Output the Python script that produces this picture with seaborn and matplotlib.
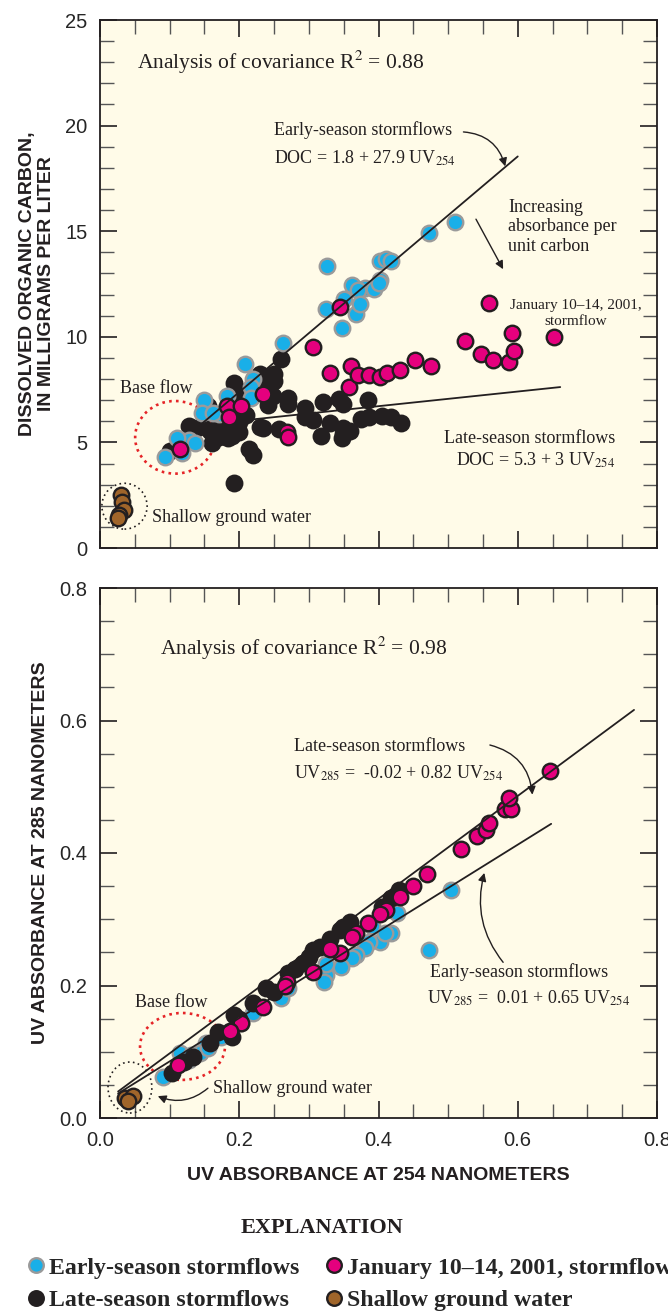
import numpy as np
import pandas as pd
import matplotlib
matplotlib.use("Agg")
import matplotlib.pyplot as plt
from matplotlib.lines import Line2D
from matplotlib.patches import Ellipse
from matplotlib.ticker import MultipleLocator
import seaborn as sns

# ---------------- DATA ----------------
# Top panel: UV254 vs DOC (mg/L)
early_doc_x = [0.51, 0.473, 0.402, 0.411, 0.418, 0.326, 0.402, 0.362, 0.38, 0.394, 0.37, 0.35,
               0.325, 0.348, 0.367, 0.373, 0.263, 0.208, 0.22, 0.217, 0.217, 0.183, 0.149, 0.146,
               0.171, 0.162, 0.115, 0.128, 0.137, 0.094, 0.118, 0.11, 0.40]
early_doc_y = [15.45, 14.9, 13.6, 13.7, 13.6, 13.35, 12.7, 12.45, 12.3, 12.25, 12.2, 11.8,
               11.3, 10.4, 11.1, 11.55, 9.7, 8.7, 8.0, 7.6, 7.1, 7.2, 7.0, 6.4,
               6.35, 6.4, 5.1, 5.1, 4.95, 4.3, 4.5, 5.2, 12.55]

late_doc_x = [0.26, 0.25, 0.23, 0.238, 0.25, 0.193, 0.199, 0.242, 0.248, 0.242, 0.27, 0.27,
              0.294, 0.32, 0.343, 0.349, 0.385, 0.294, 0.306, 0.33, 0.349, 0.375, 0.386, 0.405,
              0.418, 0.432, 0.234, 0.257, 0.318, 0.349, 0.359, 0.348, 0.214, 0.22, 0.193, 0.128,
              0.146, 0.158, 0.161, 0.183, 0.199, 0.19, 0.171, 0.10, 0.23, 0.184, 0.168, 0.139,
              0.20, 0.21, 0.19, 0.18, 0.155, 0.19, 0.20]
late_doc_y = [8.95, 8.25, 8.25, 7.9, 7.9, 7.8, 7.45, 7.6, 7.2, 6.75, 7.1, 6.8,
              6.65, 6.9, 7.05, 6.8, 7.0, 6.2, 6.05, 5.9, 5.7, 6.1, 6.2, 6.27,
              6.2, 5.9, 5.7, 5.65, 5.3, 5.4, 5.55, 5.2, 4.7, 4.4, 3.1, 5.8,
              5.8, 5.55, 4.95, 5.25, 5.95, 5.65, 5.25, 4.6, 5.75, 5.2, 5.7, 5.7,
              6.1, 6.3, 6.9, 6.4, 6.7, 5.3, 5.5]

jan_doc_x = [0.115, 0.183, 0.185, 0.203, 0.234, 0.268, 0.27, 0.306, 0.345, 0.331, 0.357, 0.361,
             0.371, 0.387, 0.402, 0.412, 0.431, 0.453, 0.475, 0.559, 0.524, 0.547, 0.564, 0.587,
             0.592, 0.594, 0.652]
jan_doc_y = [4.7, 6.7, 6.2, 6.7, 7.3, 5.5, 5.25, 9.5, 11.4, 8.3, 7.6, 8.6,
             8.2, 8.2, 8.1, 8.3, 8.45, 8.9, 8.6, 11.6, 9.8, 9.2, 8.9, 8.8,
             10.2, 9.35, 10.0]

gw_doc_x = [0.030, 0.032, 0.034, 0.028, 0.026]
gw_doc_y = [2.5, 2.2, 1.8, 1.55, 1.4]

# Bottom panel: UV254 vs UV285
early_uv_x = [0.504, 0.473, 0.427, 0.418, 0.402, 0.387, 0.381, 0.368, 0.362, 0.346, 0.325, 0.322,
              0.325, 0.26, 0.27, 0.22, 0.202, 0.174, 0.152, 0.143, 0.128, 0.115, 0.09, 0.13,
              0.155, 0.41, 0.39]
early_uv_y = [0.344, 0.254, 0.309, 0.279, 0.266, 0.266, 0.256, 0.246, 0.241, 0.228, 0.216, 0.205,
              0.233, 0.181, 0.196, 0.158, 0.143, 0.123, 0.113, 0.098, 0.088, 0.098, 0.062, 0.095,
              0.105, 0.28, 0.29]

late_uv_x = [0.43, 0.418, 0.405, 0.359, 0.349, 0.344, 0.316, 0.300, 0.291, 0.306, 0.27, 0.239,
             0.22, 0.192, 0.19, 0.158, 0.134, 0.103, 0.33, 0.28, 0.25, 0.20, 0.17, 0.12]
late_uv_y = [0.344, 0.332, 0.319, 0.296, 0.289, 0.284, 0.258, 0.243, 0.234, 0.254, 0.219, 0.196,
             0.174, 0.156, 0.122, 0.113, 0.092, 0.068, 0.27, 0.225, 0.19, 0.15, 0.13, 0.085]

jan_uv_x = [0.47, 0.45, 0.431, 0.411, 0.402, 0.385, 0.368, 0.362, 0.345, 0.331, 0.306, 0.268,
            0.266, 0.234, 0.202, 0.186, 0.112, 0.519, 0.542, 0.555, 0.558, 0.582, 0.59, 0.588,
            0.647]
jan_uv_y = [0.368, 0.35, 0.334, 0.314, 0.308, 0.294, 0.279, 0.273, 0.249, 0.255, 0.221, 0.205,
            0.2, 0.168, 0.143, 0.132, 0.08, 0.406, 0.426, 0.435, 0.445, 0.466, 0.466, 0.483,
            0.524]

gw_uv_x = [0.036, 0.047, 0.040]
gw_uv_y = [0.030, 0.033, 0.025]

# Regression lines (end points)
early_doc_line_x = [0.145, 0.60]
early_doc_line_y = [5.85, 18.54]
late_doc_line_x = [0.208, 0.661]
late_doc_line_y = [6.05, 7.62]
late_uv_line_x = [0.026, 0.767]
late_uv_line_y = [0.040, 0.616]
early_uv_line_x = [0.026, 0.648]
early_uv_line_y = [0.037, 0.444]

groups = ["Early-season stormflows", "Late-season stormflows",
          "January 10\u201314, 2001, stormflow", "Shallow ground water"]

def frame(x, y, g):
    return pd.DataFrame({"uv254": x, "val": y, "group": g})

top_df = pd.concat([frame(late_doc_x, late_doc_y, groups[1]),
                    frame(early_doc_x, early_doc_y, groups[0]),
                    frame(jan_doc_x, jan_doc_y, groups[2]),
                    frame(gw_doc_x, gw_doc_y, groups[3])], ignore_index=True)
bot_df = pd.concat([frame(early_uv_x, early_uv_y, groups[0]),
                    frame(late_uv_x, late_uv_y, groups[1]),
                    frame(jan_uv_x, jan_uv_y, groups[2]),
                    frame(gw_uv_x, gw_uv_y, groups[3])], ignore_index=True)

# ---------------- STYLE ----------------
sns.set_style("ticks")
SANS = ["Liberation Sans", "DejaVu Sans"]
SERIF = ["Liberation Serif", "DejaVu Serif"]
plt.rcParams["font.family"] = SANS
plt.rcParams["mathtext.fontset"] = "stix"

face = {groups[0]: "#19AFE8", groups[1]: "#231F20", groups[2]: "#E5007E", groups[3]: "#A0652A"}
edge = {groups[0]: "#9A9A9A", groups[1]: "#231F20", groups[2]: "#231F20", groups[3]: "#231F20"}
BG = "#FFFBE8"
INK = "#231F20"

W, H = 668, 1314
fig = plt.figure(figsize=(W / 100, H / 100), dpi=100)
ax1 = fig.add_axes([100 / W, 1 - 548 / H, 557 / W, 528 / H])
ax2 = fig.add_axes([100 / W, 1 - 1118 / H, 557 / W, 530 / H])

def draw(ax, df, order):
    for g in order:
        sub = df[df.group == g]
        sns.scatterplot(data=sub, x="uv254", y="val", ax=ax, color=face[g],
                        edgecolor=edge[g], linewidth=1.7, s=125, zorder=3, legend=False)

draw(ax1, top_df, [groups[1], groups[0], groups[2], groups[3]])
draw(ax2, bot_df, [groups[0], groups[1], groups[2], groups[3]])

ax1.plot(early_doc_line_x, early_doc_line_y, color=INK, lw=1.3, zorder=4)
ax1.plot(late_doc_line_x, late_doc_line_y, color=INK, lw=1.3, zorder=4)
ax2.plot(late_uv_line_x, late_uv_line_y, color=INK, lw=1.3, zorder=4)
ax2.plot(early_uv_line_x, early_uv_line_y, color=INK, lw=1.3, zorder=4)

for ax, ymax, ymaj, ymin in [(ax1, 25, 5, 1), (ax2, 0.8, 0.2, 0.05)]:
    ax.set_facecolor(BG)
    ax.set_xlim(0, 0.8)
    ax.set_ylim(0, ymax)
    ax.xaxis.set_major_locator(MultipleLocator(0.2))
    ax.xaxis.set_minor_locator(MultipleLocator(0.05))
    ax.yaxis.set_major_locator(MultipleLocator(ymaj))
    ax.yaxis.set_minor_locator(MultipleLocator(ymin))
    ax.tick_params(which="both", direction="in", top=True, right=True, color=INK)
    ax.tick_params(which="major", length=12, width=1.2, labelsize=14.5, pad=9)
    ax.tick_params(which="minor", length=10, width=1.0, color="#555555")
    for sp in ax.spines.values():
        sp.set_linewidth(1.3)
        sp.set_color(INK)
    ax.set_xlabel("")
    ax.set_ylabel("")

ax1.set_yticks([0, 5, 10, 15, 20, 25])
ax1.set_yticklabels(["0", "5", "10", "15", "20", "25"])
ax1.tick_params(axis="x", labelbottom=False)
ax2.set_yticks([0, 0.2, 0.4, 0.6, 0.8])
ax2.set_yticklabels(["0.0", "0.2", "0.4", "0.6", "0.8"])
ax2.set_xticks([0, 0.2, 0.4, 0.6, 0.8])
ax2.set_xticklabels(["0.0", "0.2", "0.4", "0.6", "0.8"])

lab = dict(fontsize=14, fontweight="bold", family=SANS, color=INK)
ax2.set_xlabel("UV ABSORBANCE AT 254 NANOMETERS", **lab)
ax2.xaxis.set_label_coords(0.499, -0.092)
ax2.set_ylabel("UV ABSORBANCE AT 285 NANOMETERS", **lab)
ax2.yaxis.set_label_coords(-0.092, 0.5)
ax1.set_ylabel("DISSOLVED ORGANIC CARBON,\nIN MILLIGRAMS PER LITER", linespacing=1.15, **lab)
ax1.yaxis.set_label_coords(-0.08, 0.5)

# ellipses
ax1.add_patch(Ellipse((0.108, 5.24), 0.115, 3.44, fill=False, ec="#E52427", ls=(0, (1, 1.6)), lw=1.9, zorder=2))
ax1.add_patch(Ellipse((0.0352, 1.98), 0.065, 2.17, fill=False, ec=INK, ls=(0, (1, 2)), lw=1.2, zorder=2))
ax2.add_patch(Ellipse((0.1185, 0.108), 0.122, 0.101, fill=False, ec="#E52427", ls=(0, (1, 1.6)), lw=1.9, zorder=2))
ax2.add_patch(Ellipse((0.043, 0.046), 0.063, 0.077, fill=False, ec=INK, ls=(0, (1, 2)), lw=1.2, zorder=2))

fs = 13
def t(ax, x, y, s, size=fs, **kw):
    ax.text(x, y, s, fontsize=size, family=SERIF, color=INK, va="center", **kw)

# top annotations
t(ax1, 0.053, 23.0, "Analysis of covariance R$^2$ = 0.88", size=15.5)
t(ax1, 0.25, 19.8, "Early-season stormflows")
t(ax1, 0.25, 18.45, "DOC = 1.8 + 27.9 UV$_{254}$")
t(ax1, 0.586, 15.2, "Increasing\nabsorbance per\nunit carbon", linespacing=1.22)
t(ax1, 0.683, 11.1, "January 10\u201314, 2001,\nstormflow", size=11, ha="center", linespacing=1.35)
t(ax1, 0.029, 7.55, "Base flow")
t(ax1, 0.74, 5.2, "Late-season stormflows", ha="right")
t(ax1, 0.74, 4.15, "DOC = 5.3 + 3 UV$_{254}$", ha="right")
t(ax1, 0.075, 1.46, "Shallow ground water")

arrow = dict(arrowstyle="-|>", color=INK, lw=1.0, mutation_scale=12, shrinkA=0, shrinkB=0)
ax1.annotate("", xy=(0.582, 18.07), xytext=(0.522, 19.7),
             arrowprops=dict(arrow, connectionstyle="arc3,rad=-0.35"))
ax1.annotate("", xy=(0.579, 13.2), xytext=(0.54, 15.57), arrowprops=arrow)

# bottom annotations
t(ax2, 0.086, 0.709, "Analysis of covariance R$^2$ = 0.98", size=15.5)
t(ax2, 0.279, 0.561, "Late-season stormflows")
t(ax2, 0.279, 0.521, "UV$_{285}$ =  -0.02 + 0.82 UV$_{254}$")
t(ax2, 0.474, 0.220, "Early-season stormflows")
t(ax2, 0.470, 0.181, "UV$_{285}$ =  0.01 + 0.65 UV$_{254}$")
t(ax2, 0.05, 0.175, "Base flow")
t(ax2, 0.162, 0.045, "Shallow ground water")

ax2.annotate("", xy=(0.621, 0.488), xytext=(0.56, 0.563),
             arrowprops=dict(arrow, connectionstyle="arc3,rad=-0.35"))
ax2.annotate("", xy=(0.552, 0.37), xytext=(0.579, 0.235),
             arrowprops=dict(arrow, connectionstyle="arc3,rad=-0.25"))
ax2.annotate("", xy=(0.083, 0.033), xytext=(0.155, 0.045),
             arrowprops=dict(arrow, connectionstyle="arc3,rad=-0.3"))

# legend
fig.text(322 / W, 1 - 1228 / H, "EXPLANATION", fontsize=16, fontweight="bold",
         family=SERIF, ha="center", va="center", color=INK)
handles = [Line2D([], [], ls="", marker="o", markersize=10.5, markerfacecolor=face[g],
                  markeredgecolor=edge[g], markeredgewidth=1.7) for g in
           [groups[0], groups[1], groups[2], groups[3]]]
fig.legend(handles, [groups[0], groups[1], groups[2], groups[3]], ncol=2,
           loc="upper left", bbox_to_anchor=(29 / W, 1 - 1257 / H), frameon=False,
           prop=dict(family=SERIF, weight="bold", size=17.2), handlelength=0.55,
           handletextpad=0.3, columnspacing=1.15, labelspacing=0.44, borderaxespad=0,
           borderpad=0)

fig.savefig("out.png", dpi=100, facecolor="white")
